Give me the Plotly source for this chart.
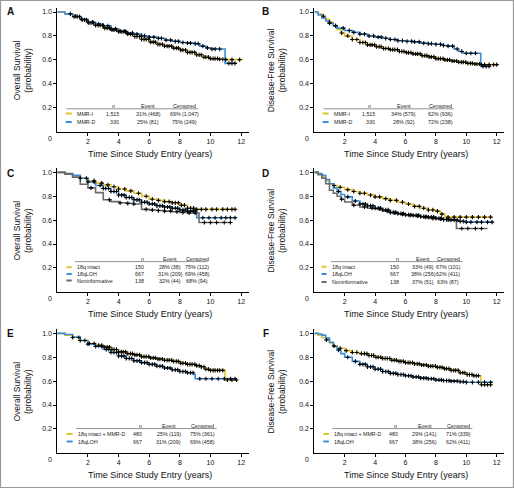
import numpy as np
import plotly.graph_objects as go

YELLOW = "#E5C22A"
BLUE = "#3A8EDB"
GRAY = "#6A6A6A"
FONT = "Liberation Sans, Arial, sans-serif"

# ---------------- Panel A: Overall survival, MMR ----------------
A_I_t = [0, 0.5, 1, 1.5, 2, 2.5, 3, 3.5, 4, 4.5, 5, 5.5, 6, 6.5, 7, 7.5, 8, 8.5, 9, 9.5, 10, 10.5, 11, 12.1]
A_I_s = [1.0, 0.985, 0.962, 0.935, 0.91, 0.888, 0.865, 0.85, 0.835, 0.815, 0.795, 0.772, 0.748, 0.73, 0.715, 0.698, 0.682, 0.662, 0.642, 0.622, 0.61, 0.605, 0.602, 0.602]
A_I_c = [0.85, 1.1, 1.3, 1.45, 1.62, 1.78, 1.9, 2.06, 2.2, 2.37, 2.5, 2.66, 2.8, 2.97, 3.1, 3.26, 3.4, 3.57, 3.7, 3.86, 4.0, 4.17, 4.3, 4.46, 4.6, 4.77, 4.9, 5.06, 5.2, 5.37, 5.5, 5.66, 5.8, 5.97, 6.1, 6.26, 6.4, 6.57, 6.7, 6.86, 7.0, 7.17, 7.3, 7.46, 7.6, 7.77, 7.9, 8.06, 8.2, 8.37, 8.5, 8.66, 8.8, 8.97, 9.1, 9.26, 9.4, 9.57, 9.7, 9.86, 10.0, 10.17, 10.3, 10.46, 10.6, 10.8, 11.0, 11.4, 11.9]
A_D_t = [0, 0.5, 1, 1.5, 2, 2.5, 3, 3.5, 4, 4.5, 5, 5.5, 6, 6.5, 7, 7.5, 8, 8.5, 9, 9.3, 9.7, 10, 10.95, 11.65]
A_D_s = [1.0, 0.985, 0.965, 0.94, 0.915, 0.9, 0.885, 0.86, 0.84, 0.825, 0.815, 0.8, 0.79, 0.78, 0.765, 0.755, 0.745, 0.74, 0.735, 0.715, 0.7, 0.69, 0.57, 0.57]
A_D_c = [1.2, 1.6, 2.0, 2.3, 2.7, 3.0, 3.3, 3.5, 3.8, 4.1, 4.4, 4.6, 4.9, 5.2, 5.5, 5.7, 6.0, 6.3, 6.6, 6.8, 7.1, 7.4, 7.7, 7.9, 8.2, 8.5, 8.7, 9.0, 9.2, 9.5, 9.8, 10.1, 10.3, 10.6, 11.2, 11.4, 11.6]

# ---------------- Panel B: Disease-free survival, MMR ----------------
B_I_t = [0, 0.25, 0.5, 0.75, 1, 1.25, 1.5, 1.75, 2, 2.5, 3, 3.5, 4, 4.5, 5, 5.5, 6, 6.5, 7, 7.5, 8, 8.5, 9, 9.5, 10, 10.5, 11, 12.1]
B_I_s = [1.0, 0.985, 0.965, 0.94, 0.915, 0.885, 0.855, 0.825, 0.8, 0.77, 0.745, 0.725, 0.71, 0.695, 0.685, 0.67, 0.66, 0.65, 0.635, 0.625, 0.61, 0.6, 0.59, 0.58, 0.57, 0.565, 0.56, 0.56]
B_I_c = [0.6, 1.0, 1.4, 1.8, 2.2, 2.5, 2.8, 3.0, 3.2, 3.36, 3.5, 3.67, 3.8, 3.96, 4.1, 4.27, 4.4, 4.56, 4.7, 4.87, 5.0, 5.16, 5.3, 5.47, 5.6, 5.76, 5.9, 6.07, 6.2, 6.36, 6.5, 6.67, 6.8, 6.96, 7.1, 7.27, 7.4, 7.56, 7.7, 7.87, 8.0, 8.16, 8.3, 8.47, 8.6, 8.76, 8.9, 9.07, 9.2, 9.36, 9.5, 9.67, 9.8, 9.96, 10.1, 10.27, 10.4, 10.56, 10.7, 10.87, 11.0, 11.2, 11.5, 11.8, 12.0]
B_D_t = [0, 0.25, 0.5, 0.75, 1, 1.25, 1.5, 2, 2.5, 3, 3.5, 4, 4.5, 5, 5.5, 6, 6.5, 7, 7.5, 8, 8.5, 8.8, 9.2, 9.5, 9.8, 10.95, 11.6]
B_D_s = [1.0, 0.975, 0.95, 0.925, 0.905, 0.885, 0.865, 0.845, 0.83, 0.815, 0.8, 0.79, 0.78, 0.77, 0.76, 0.755, 0.75, 0.74, 0.735, 0.73, 0.72, 0.715, 0.69, 0.67, 0.655, 0.545, 0.545]
B_D_c = [1.0, 1.4, 1.9, 2.3, 2.6, 3.0, 3.3, 3.6, 3.9, 4.2, 4.4, 4.7, 5.0, 5.3, 5.5, 5.8, 6.1, 6.4, 6.6, 6.9, 7.2, 7.5, 7.7, 8.0, 8.3, 8.5, 8.8, 9.1, 9.4, 9.7, 10.0, 10.3, 10.6, 11.1, 11.3, 11.5]

# ---------------- Panel C: Overall survival, 18q ----------------
C_Y_t = [0, 0.5, 1, 1.5, 2, 2.5, 3, 3.5, 4, 4.5, 5, 5.5, 6, 6.5, 7, 7.5, 8, 8.5, 9, 11.7]
C_Y_s = [1.0, 0.99, 0.97, 0.95, 0.93, 0.91, 0.895, 0.88, 0.86, 0.845, 0.825, 0.8, 0.775, 0.765, 0.755, 0.745, 0.725, 0.7, 0.69, 0.69]
C_Y_c = [1.9, 2.4, 2.9, 3.3, 3.7, 4.0, 4.4, 4.8, 5.3, 5.8, 6.2, 6.6, 7.0, 7.3, 7.5, 7.7, 7.9, 8.1, 8.3, 8.5, 8.7, 8.9, 9.1, 9.4, 9.7, 10.1, 10.4, 10.8, 11.1, 11.4, 11.6]
C_B_t = [0, 0.5, 1, 1.5, 2, 2.5, 3, 3.5, 4, 4.5, 5, 5.5, 6, 6.5, 7, 7.5, 8, 8.5, 9.1, 11.7]
C_B_s = [1.0, 0.99, 0.975, 0.95, 0.92, 0.89, 0.865, 0.84, 0.81, 0.79, 0.77, 0.75, 0.735, 0.72, 0.71, 0.7, 0.685, 0.675, 0.62, 0.62]
C_B_c = [1.5, 2.0, 2.4, 2.8, 3.0, 3.16, 3.35, 3.5, 3.7, 3.86, 4.0, 4.2, 4.36, 4.5, 4.7, 4.86, 5.0, 5.2, 5.35, 5.5, 5.7, 5.86, 6.0, 6.2, 6.35, 6.5, 6.7, 6.86, 7.0, 7.2, 7.35, 7.5, 7.7, 7.86, 8.0, 8.2, 8.35, 8.5, 8.7, 8.86, 9.0, 9.5, 9.9, 10.3, 10.7, 11.0, 11.3, 11.6]
C_G_t = [0, 0.5, 1, 1.5, 2, 2.5, 3, 3.5, 4, 4.5, 5, 5.5, 6, 6.5, 7, 7.5, 8, 8.5, 9.25, 11.3]
C_G_s = [1.0, 0.985, 0.96, 0.9, 0.87, 0.83, 0.77, 0.755, 0.745, 0.74, 0.735, 0.69, 0.685, 0.68, 0.675, 0.67, 0.665, 0.66, 0.58, 0.58]
C_G_c = [2.2, 3.4, 4.1, 4.6, 5.0, 5.8, 6.2, 6.6, 7.0, 7.4, 7.8, 8.2, 8.6, 9.0, 9.6, 10.0, 10.4, 10.9, 11.3]

# ---------------- Panel D: Disease-free survival, 18q ----------------
D_Y_t = [0, 0.25, 0.5, 0.75, 1, 1.25, 1.5, 2, 2.5, 3, 3.5, 4, 4.5, 5, 5.5, 6, 6.5, 7, 7.5, 8, 8.3, 8.6, 11.7]
D_Y_s = [1.0, 0.985, 0.96, 0.93, 0.905, 0.89, 0.875, 0.855, 0.84, 0.825, 0.81, 0.795, 0.78, 0.765, 0.75, 0.735, 0.715, 0.7, 0.685, 0.675, 0.65, 0.625, 0.625]
D_Y_c = [1.3, 1.7, 2.2, 2.6, 3.0, 3.3, 3.7, 4.0, 4.3, 4.7, 5.0, 5.4, 5.8, 6.2, 6.6, 6.9, 7.2, 7.5, 7.8, 8.1, 8.4, 8.8, 9.2, 9.6, 10.0, 10.4, 10.8, 11.2, 11.6]
D_B_t = [0, 0.25, 0.5, 0.75, 1, 1.25, 1.5, 1.75, 2, 2.5, 3, 3.5, 4, 4.5, 5, 5.5, 6, 6.5, 7, 7.5, 8, 8.5, 9, 9.5, 10, 11.7]
D_B_s = [1.0, 0.99, 0.975, 0.94, 0.905, 0.87, 0.84, 0.815, 0.795, 0.76, 0.735, 0.72, 0.7, 0.685, 0.665, 0.655, 0.645, 0.64, 0.63, 0.625, 0.615, 0.605, 0.6, 0.59, 0.583, 0.583]
D_B_c = [1.6, 2.2, 2.7, 3.0, 3.2, 3.36, 3.5, 3.7, 3.86, 4.0, 4.2, 4.36, 4.5, 4.7, 4.86, 5.0, 5.2, 5.36, 5.5, 5.7, 5.86, 6.0, 6.2, 6.36, 6.5, 6.7, 6.86, 7.0, 7.2, 7.36, 7.5, 7.7, 7.86, 8.0, 8.2, 8.36, 8.5, 8.7, 8.86, 9.0, 9.2, 9.4, 9.6, 9.8, 10.0, 10.3, 10.7, 11.0, 11.4, 11.7]
D_G_t = [0, 0.25, 0.5, 0.75, 1, 1.25, 1.5, 1.75, 2, 2.5, 3, 3.5, 4, 4.5, 5, 5.5, 6, 6.5, 7, 7.5, 8, 8.5, 9.35, 11.4]
D_G_s = [1.0, 0.98, 0.95, 0.905, 0.85, 0.825, 0.8, 0.775, 0.752, 0.725, 0.71, 0.7, 0.695, 0.675, 0.66, 0.65, 0.64, 0.635, 0.625, 0.615, 0.61, 0.605, 0.53, 0.53]
D_G_c = [1.8, 2.6, 3.3, 3.8, 4.3, 4.8, 5.3, 5.8, 6.3, 6.8, 7.3, 7.8, 8.3, 8.8, 9.7, 10.1, 10.6, 11.0]

# ---------------- Panel E: Overall survival, combined ----------------
E_Y_t = [0, 0.5, 1, 1.5, 2, 2.5, 3, 3.5, 4, 4.5, 5, 5.5, 6, 6.5, 7, 7.5, 8, 8.5, 9, 9.3, 9.6, 10, 10.95, 11.7]
E_Y_s = [1.0, 0.985, 0.965, 0.94, 0.915, 0.9, 0.885, 0.865, 0.845, 0.83, 0.82, 0.805, 0.795, 0.785, 0.775, 0.765, 0.75, 0.74, 0.73, 0.72, 0.7, 0.69, 0.61, 0.61]
E_Y_c = [1.0, 1.4, 1.8, 2.1, 2.4, 2.7, 2.9, 3.1, 3.26, 3.4, 3.57, 3.7, 3.86, 4.0, 4.17, 4.3, 4.46, 4.6, 4.77, 4.9, 5.06, 5.2, 5.37, 5.5, 5.66, 5.8, 5.97, 6.1, 6.26, 6.4, 6.57, 6.7, 6.86, 7.0, 7.17, 7.3, 7.46, 7.6, 7.77, 7.9, 8.06, 8.2, 8.37, 8.5, 8.66, 8.8, 8.97, 9.1, 9.26, 9.4, 9.57, 9.7, 9.86, 10.0, 10.17, 10.3, 10.46, 10.6, 10.8, 11.1, 11.4, 11.7]
E_B_t = [0, 0.5, 1, 1.5, 2, 2.5, 3, 3.5, 4, 4.5, 5, 5.5, 6, 6.5, 7, 7.5, 8, 8.5, 8.9, 9.0, 11.7]
E_B_s = [1.0, 0.99, 0.97, 0.94, 0.91, 0.89, 0.865, 0.84, 0.81, 0.79, 0.77, 0.755, 0.74, 0.725, 0.71, 0.695, 0.68, 0.67, 0.655, 0.62, 0.62]
E_B_c = [1.5, 2.0, 2.5, 2.9, 3.2, 3.36, 3.5, 3.7, 3.86, 4.0, 4.2, 4.36, 4.5, 4.7, 4.86, 5.0, 5.2, 5.36, 5.5, 5.7, 5.86, 6.0, 6.2, 6.36, 6.5, 6.7, 6.86, 7.0, 7.2, 7.36, 7.5, 7.7, 7.86, 8.0, 8.2, 8.36, 8.5, 8.7, 8.86, 9.3, 9.7, 10.1, 10.5, 10.9, 11.3, 11.6]

# ---------------- Panel F: Disease-free survival, combined ----------------
F_Y_t = [0, 0.25, 0.5, 0.75, 1, 1.25, 1.5, 2, 2.5, 3, 3.5, 4, 4.5, 5, 5.5, 6, 6.5, 7, 7.5, 8, 8.5, 9, 9.5, 10, 10.5, 10.95, 11.7]
F_Y_s = [1.0, 0.985, 0.965, 0.945, 0.92, 0.895, 0.875, 0.855, 0.84, 0.83, 0.815, 0.8, 0.79, 0.775, 0.765, 0.755, 0.745, 0.735, 0.725, 0.715, 0.705, 0.69, 0.67, 0.655, 0.645, 0.57, 0.57]
F_Y_c = [0.8, 1.3, 1.7, 2.1, 2.5, 2.8, 3.1, 3.3, 3.46, 3.6, 3.77, 3.9, 4.06, 4.2, 4.37, 4.5, 4.66, 4.8, 4.97, 5.1, 5.26, 5.4, 5.57, 5.7, 5.86, 6.0, 6.17, 6.3, 6.46, 6.6, 6.77, 6.9, 7.06, 7.2, 7.37, 7.5, 7.66, 7.8, 7.97, 8.1, 8.26, 8.4, 8.57, 8.7, 8.86, 9.0, 9.17, 9.3, 9.46, 9.6, 9.77, 9.9, 10.06, 10.2, 10.37, 10.5, 10.66, 10.8, 11.0, 11.2, 11.4, 11.6]
F_B_t = [0, 0.25, 0.5, 0.75, 1, 1.25, 1.5, 1.75, 2, 2.5, 3, 3.5, 4, 4.5, 5, 5.5, 6, 6.5, 7, 7.5, 8, 8.5, 9, 9.5, 10, 11.7]
F_B_s = [1.0, 0.995, 0.985, 0.96, 0.925, 0.89, 0.86, 0.83, 0.8, 0.765, 0.74, 0.72, 0.7, 0.68, 0.665, 0.655, 0.645, 0.635, 0.625, 0.62, 0.61, 0.605, 0.6, 0.595, 0.59, 0.585]
F_B_c = [1.6, 2.2, 2.7, 3.0, 3.2, 3.36, 3.5, 3.7, 3.86, 4.0, 4.2, 4.36, 4.5, 4.7, 4.86, 5.0, 5.2, 5.36, 5.5, 5.7, 5.86, 6.0, 6.2, 6.36, 6.5, 6.7, 6.86, 7.0, 7.2, 7.36, 7.5, 7.7, 7.86, 8.0, 8.2, 8.36, 8.5, 8.7, 8.86, 9.0, 9.2, 9.4, 9.6, 9.8, 10.0, 10.4, 10.8, 11.2, 11.6]

# ---------------- Legend tables ----------------
A_rows = [["MMR-I", "1,515", "31% (468)", "69% (1,047)"], ["MMR-D", "330", "25% (81)", "75% (249)"]]
B_rows = [["MMR-I", "1,515", "34% (579)", "62% (936)"], ["MMR-D", "330", "28% (92)", "72% (238)"]]
C_rows = [["18q intact", "150", "28% (38)", "75% (112)"], ["18qLOH", "667", "31% (209)", "69% (458)"], ["Noninformative", "138", "32% (44)", "68% (94)"]]
D_rows = [["18q intact", "150", "33% (49)", "67% (101)"], ["18qLOH", "667", "38% (256)", "62% (411)"], ["Noninformative", "138", "37% (51)", "63% (87)"]]
E_rows = [["18q intact + MMR-D", "480", "25% (119)", "75% (361)"], ["18qLOH", "667", "31% (209)", "69% (458)"]]
F_rows = [["18q intact + MMR-D", "480", "29% (141)", "71% (339)"], ["18qLOH", "667", "38% (256)", "62% (411)"]]
HEADER = ["n", "Event", "Censored"]
X_TICKS = [2, 4, 6, 8, 10, 12]
Y_TICKS = [0.2, 0.4, 0.6, 0.8, 1.0]
PANEL_LETTERS = ["A", "B", "C", "D", "E", "F"]
Y_TITLES = ["Overall Survival", "Disease-Free Survival"] * 3
X_TITLE = "Time Since Study Entry (years)"


def step_value(t_knots, s_knots, times):
    idx = np.searchsorted(np.array(t_knots), np.array(times), side="right") - 1
    return np.array(s_knots)[idx]


panels = [
    dict(curves=[(A_I_t, A_I_s, A_I_c, YELLOW), (A_D_t, A_D_s, A_D_c, BLUE)], rows=A_rows,
         tab=dict(hy=0.217, uy=0.19, ry=[0.15, 0.08], ux=(0.6, 9.2), sw=(0.55, 0.94), lx=1.16, nh=3.66, nx=4.14, ex=5.95, cx=8.3)),
    dict(curves=[(B_I_t, B_I_s, B_I_c, YELLOW), (B_D_t, B_D_s, B_D_c, BLUE)], rows=B_rows,
         tab=dict(hy=0.217, uy=0.19, ry=[0.15, 0.08], ux=(0.6, 9.2), sw=(0.55, 0.94), lx=1.16, nh=3.66, nx=4.14, ex=5.9, cx=8.27)),
    dict(curves=[(C_Y_t, C_Y_s, C_Y_c, YELLOW), (C_B_t, C_B_s, C_B_c, BLUE), (C_G_t, C_G_s, C_G_c, GRAY)], rows=C_rows,
         tab=dict(hy=0.275, uy=0.253, ry=[0.206, 0.15, 0.094], ux=(1.16, 9.8), sw=(0.6, 0.94), lx=1.16, nh=5.57, nx=5.79, ex=7.38, cx=9.13)),
    dict(curves=[(D_Y_t, D_Y_s, D_Y_c, YELLOW), (D_B_t, D_B_s, D_B_c, BLUE), (D_G_t, D_G_s, D_G_c, GRAY)], rows=D_rows,
         tab=dict(hy=0.275, uy=0.253, ry=[0.21, 0.15, 0.083], ux=(1.1, 9.74), sw=(0.48, 0.81), lx=1.03, nh=5.48, nx=5.68, ex=7.17, cx=8.82)),
    dict(curves=[(E_Y_t, E_Y_s, E_Y_c, YELLOW), (E_B_t, E_B_s, E_B_c, BLUE)], rows=E_rows,
         tab=dict(hy=0.225, uy=0.203, ry=[0.158, 0.094], ux=(1.22, 10.4), sw=(0.61, 1.0), lx=1.22, nh=5.41, nx=5.68, ex=7.27, cx=9.45)),
    dict(curves=[(F_Y_t, F_Y_s, F_Y_c, YELLOW), (F_B_t, F_B_s, F_B_c, BLUE)], rows=F_rows,
         tab=dict(hy=0.225, uy=0.203, ry=[0.158, 0.094], ux=(1.18, 10.4), sw=(0.59, 0.96), lx=1.18, nh=5.35, nx=5.64, ex=7.28, cx=9.47)),
]

W, H = 514, 488
col_dom = [(57.3 / W, 248.8 / W), (314.3 / W, 504.3 / W)]
row_off = [0.0, 160.3, 321.3]
Y_TOP = 1.033


def row_dom(r):
    zero_px = 131.5 + row_off[r]
    top_px = 8.1 + row_off[r]
    return (1 - zero_px / H, 1 - top_px / H)


fig = go.Figure()
layout = dict(width=W, height=H, margin=dict(l=0, r=0, t=0, b=0),
              paper_bgcolor="white", plot_bgcolor="white", showlegend=False,
              font=dict(family=FONT, color="#111"))
annotations = []
shapes = []

for i, p in enumerate(panels):
    r, c = divmod(i, 2)
    n = i + 1
    xa = "x" if n == 1 else f"x{n}"
    ya = "y" if n == 1 else f"y{n}"
    axis_common = dict(showline=True, linecolor="black", linewidth=1, ticks="outside", ticklen=3,
                       tickwidth=1, tickcolor="black", showgrid=False, zeroline=False, automargin=False,
                       tickfont=dict(size=7, family=FONT, color="#111"))
    layout["xaxis" + ("" if n == 1 else str(n))] = dict(
        domain=list(col_dom[c]), range=[0, 12.5], anchor=ya, tickvals=X_TICKS, **axis_common)
    layout["yaxis" + ("" if n == 1 else str(n))] = dict(
        domain=list(row_dom(r)), range=[0, Y_TOP], anchor=xa, tickvals=Y_TICKS,
        tickformat=".1f", **axis_common)

    for (tt, ss, cc, col) in p["curves"]:
        fig.add_trace(go.Scatter(x=tt, y=ss, mode="lines", line=dict(color=col, width=1.6, shape="hv"),
                                 xaxis=xa, yaxis=ya, hoverinfo="skip"))
    for (tt, ss, cc, col) in p["curves"]:
        fig.add_trace(go.Scatter(x=cc, y=step_value(tt, ss, cc), mode="markers",
                                 marker=dict(symbol="cross-thin", size=3, line=dict(color="black", width=1.1)),
                                 xaxis=xa, yaxis=ya, hoverinfo="skip"))

    annotations.append(dict(x=0, y=0, xref=xa, yref=ya, text="0", showarrow=False, xshift=-7, yshift=-7,
                            font=dict(size=7, family=FONT, color="#111")))

    tb = p["tab"]
    tf = dict(size=5.3, family=FONT, color="#222")
    for txt, xx in zip(HEADER, [tb["nh"], tb["ex"], tb["cx"]]):
        annotations.append(dict(x=xx, y=tb["hy"], xref=xa, yref=ya, text=txt, showarrow=False,
                                xanchor="center", yanchor="middle", font=tf))
    shapes.append(dict(type="line", xref=xa, yref=ya, x0=tb["ux"][0], x1=tb["ux"][1], y0=tb["uy"], y1=tb["uy"],
                       line=dict(color="#777", width=0.8)))
    for (row, ry, cur) in zip(p["rows"], tb["ry"], p["curves"]):
        shapes.append(dict(type="line", xref=xa, yref=ya, x0=tb["sw"][0], x1=tb["sw"][1], y0=ry, y1=ry,
                           line=dict(color=cur[3], width=2)))
        annotations.append(dict(x=tb["lx"], y=ry, xref=xa, yref=ya, text=row[0], showarrow=False,
                                xanchor="left", yanchor="middle", font=tf))
        annotations.append(dict(x=tb["nx"], y=ry, xref=xa, yref=ya, text=row[1], showarrow=False,
                                xanchor="right", yanchor="middle", font=tf))
        annotations.append(dict(x=tb["ex"], y=ry, xref=xa, yref=ya, text=row[2], showarrow=False,
                                xanchor="center", yanchor="middle", font=tf))
        annotations.append(dict(x=tb["cx"], y=ry, xref=xa, yref=ya, text=row[3], showarrow=False,
                                xanchor="center", yanchor="middle", font=tf))

    off = row_off[r]
    colx = 0 if c == 0 else 255
    annotations.append(dict(x=(150 + colx + (1 if c else 0)) / W, y=1 - (154 + off) / H, xref="paper", yref="paper",
                            text=X_TITLE, showarrow=False, xanchor="center", yanchor="middle",
                            font=dict(size=9, family=FONT, color="#111")))
    yl1 = 21.7 + colx - (0 if c == 0 else 1)
    annotations.append(dict(x=(yl1 + 0.5) / W, y=1 - (70 + off) / H, xref="paper", yref="paper",
                            text=Y_TITLES[i] + "<br>(probability)", showarrow=False, textangle=-90,
                            xanchor="center", yanchor="middle",
                            font=dict(size=8.5, family=FONT, color="#111")))
    annotations.append(dict(x=(10.5 + colx) / W, y=1 - (11.7 + off + (1 if r == 1 else 0)) / H,
                            xref="paper", yref="paper", text="<b>" + PANEL_LETTERS[i] + "</b>", showarrow=False,
                            xanchor="center", yanchor="middle", font=dict(size=10, family=FONT, color="#111")))

shapes.append(dict(type="rect", xref="paper", yref="paper", x0=0.001, x1=0.999, y0=0.001, y1=0.999,
                   line=dict(color="#9a9a9a", width=1.2)))
layout["annotations"] = annotations
layout["shapes"] = shapes
fig.update_layout(**layout)
fig.write_html("out.html", config={"displayModeBar": False},
               post_script="document.body.style.margin='0px';")
